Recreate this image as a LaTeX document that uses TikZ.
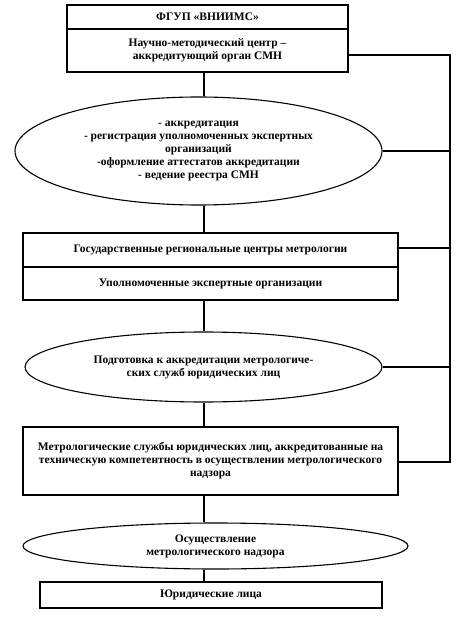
\documentclass[tikz,border=0pt]{standalone}
\usepackage{fontspec}
\setmainfont{Liberation Serif}
\usetikzlibrary{shapes.geometric}
\tikzset{
  box/.style={draw, line width=1.1pt, rectangle, inner sep=0pt, align=center, font=\fontsize{11.5}{13}\selectfont\bfseries},
  oval/.style={draw, line width=1.1pt, ellipse, inner sep=0pt, align=center, font=\fontsize{11.5}{13}\selectfont\bfseries},
  link/.style={line width=1.1pt}
}
\begin{document}
\begin{tikzpicture}[x=1pt,y=-1pt]
\useasboundingbox (0,0) rectangle (469,617);
% top box
\node[box, minimum width=281pt, minimum height=24pt] (t1) at (207.5,17) {ФГУП «ВНИИМС»};
\node[box, minimum width=281pt, minimum height=43pt] (t2) at (207.5,50.5) {Научно-методический центр –\\аккредитующий орган СМН};
% ellipse 1
\node[oval, minimum width=367pt, minimum height=108pt] (e1) at (198.5,151) {- аккредитация\\- регистрация уполномоченных экспертных\\организаций\\-оформление аттестатов аккредитации\\- ведение реестра СМН};
% box 2
\node[box, minimum width=375pt, minimum height=34pt] (b2a) at (210.5,250) {Государственные региональные центры метрологии};
\node[box, minimum width=375pt, minimum height=33pt] (b2b) at (210.5,283.5) {Уполномоченные экспертные организации};
% ellipse 2
\node[oval, minimum width=357pt, minimum height=70pt] (e2) at (203.5,367) {Подготовка к аккредитации метрологиче-\\ских служб юридических лиц};
% box 3
\node[box, minimum width=375pt, minimum height=68pt] (b3) at (210.5,461) {Метрологические службы юридических лиц, аккредитованные на\\техническую компетентность в осуществлении метрологического\\надзора};
% ellipse 3
\node[oval, minimum width=385pt, minimum height=46pt] (e3) at (215.5,546) {Осуществление\\метрологического надзора};
% box 4
\node[box, minimum width=342pt, minimum height=26pt] (b4) at (211,595) {Юридические лица};
% spine
\coordinate (sp) at (204,0);
\draw[link] (t2.south -| sp) -- (e1.north -| sp);
\draw[link] (e1.south -| sp) -- (b2a.north -| sp);
\draw[link] (b2b.south -| sp) -- (e2.north -| sp);
\draw[link] (e2.south -| sp) -- (b3.north -| sp);
\draw[link] (b3.south -| sp) -- (e3.north -| sp);
\draw[link] (e3.south -| sp) -- (b4.north -| sp);
% right bus
\coordinate (busTop) at (450,55);
\coordinate (busBot) at (450,462);
\draw[link] (t2.east |- busTop) -- (busTop) -- (busBot) -- (b3.east |- busBot);
\draw[link] (e1.east) -- (e1.east -| busTop);
\draw[link] (b2a.east |- 0,248) -- (busTop |- 0,248);
\draw[link] (e2.east) -- (e2.east -| busTop);
\end{tikzpicture}
\end{document}
